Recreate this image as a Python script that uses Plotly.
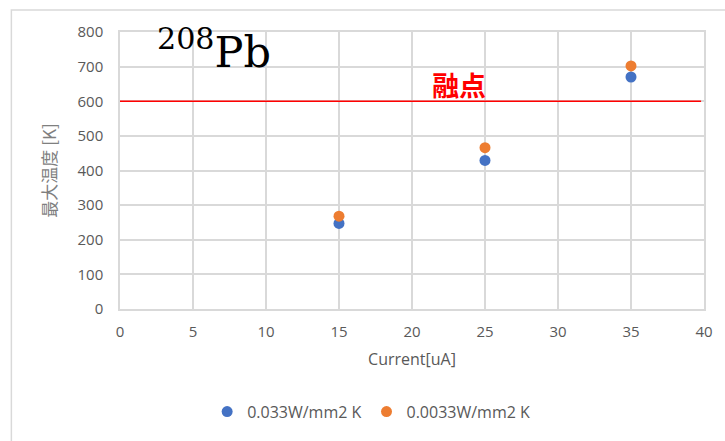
import plotly.graph_objects as go

# Beam current [uA]
current = [15, 25, 35]
# Maximum temperature [K] for two heat-transfer coefficients
temp_high_h = [247, 429, 670]
temp_low_h = [268, 466, 702]
series_names = ["0.033W/mm2 K", "0.0033W/mm2 K"]
melting_point = 600
x_ticks = [0, 5, 10, 15, 20, 25, 30, 35, 40]
y_ticks = [0, 100, 200, 300, 400, 500, 600, 700, 800]

# plot area in pixels
L, R, T, B = 120, 706, 32, 310
W, H = 725, 441
pw, ph = R - L, B - T


def px(x):
    return (x - L) / pw


def py(y):
    return (B - y) / ph


tick_font = dict(family="Open Sans, Noto Sans CJK JP", size=15, color="#595959")
grid = "#d9d9d9"

fig = go.Figure()
fig.add_trace(go.Scatter(x=current, y=temp_high_h, mode="markers", name=series_names[0],
                         marker=dict(color="#4472C4", size=11)))
fig.add_trace(go.Scatter(x=current, y=temp_low_h, mode="markers", name=series_names[1],
                         marker=dict(color="#ED7D31", size=11)))

# melting point line
fig.add_shape(type="line", xref="x", yref="y", x0=0, x1=39.8, y0=melting_point, y1=melting_point,
              line=dict(color="rgb(255,0,0)", width=1.5), layer="above")
fig.add_annotation(xref="x", yref="y", x=23.2, y=647, text="<b>融点</b>", showarrow=False,
                   font=dict(family="Noto Sans CJK JP", size=27, color="rgb(255,0,0)"))

# isotope label
fig.add_annotation(xref="paper", yref="paper", x=px(155), y=py(79), xanchor="left", yanchor="bottom",
                   text="<sup>208</sup>Pb", showarrow=False,
                   font=dict(family="DejaVu Serif, Liberation Serif", size=43, color="#000000"))

# chart frame
fig.add_shape(type="rect", xref="paper", yref="paper", x0=px(11), x1=px(740), y0=py(460), y1=py(10),
              line=dict(color=grid, width=1.5), layer="below")

fig.update_layout(
    width=W, height=H,
    margin=dict(l=L, r=W - R, t=T, b=H - B),
    paper_bgcolor="white", plot_bgcolor="white",
    font=tick_font,
    showlegend=True,
    legend=dict(orientation="h", x=px(372), xanchor="center", y=py(413), yanchor="middle",
                font=dict(family="Open Sans", size=16, color="#595959"), itemwidth=30,
                bgcolor="rgba(0,0,0,0)"),
    xaxis=dict(range=[0, 40], tickvals=x_ticks, showgrid=True, gridcolor=grid, gridwidth=1.5,
               showline=True, linecolor=grid, linewidth=1.5, mirror=True, zeroline=False,
               ticks="", ticklabelstandoff=8,
               title=dict(text="Current[uA]", font=dict(family="Open Sans", size=16, color="#595959"),
                          standoff=14)),
    yaxis=dict(range=[0, 800], tickvals=y_ticks, showgrid=True, gridcolor=grid, gridwidth=1.5,
               showline=True, linecolor=grid, linewidth=1.5, mirror=True, zeroline=False,
               ticks="", ticklabelstandoff=12,
               title=dict(text="最大温度 [K]", font=dict(family="Noto Sans CJK JP", size=17, color="#7f7f7f"),
                          standoff=17)),
)

fig.write_html("out.html")
